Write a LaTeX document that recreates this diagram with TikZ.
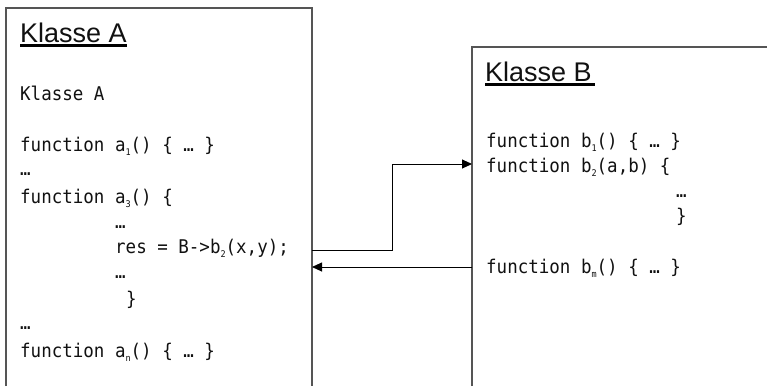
\documentclass[tikz,border=0pt]{standalone}
\usepackage{fontspec}
\usepackage{graphicx}
\setmainfont{Liberation Sans}
\newfontfamily\monof{DejaVu Sans Mono}
\usetikzlibrary{arrows.meta}
\newcommand\sbs[1]{\raisebox{-4.5pt}{\fontsize{8.5}{8.5}\selectfont #1}}
\newcommand\ctx[1]{\scalebox{1}[1.08]{#1}}
\definecolor{txt}{HTML}{111111}
\definecolor{boxc}{HTML}{555555}
\tikzset{
  code/.style={anchor=base west, inner sep=0pt, font=\monof\fontsize{17.5}{20}\selectfont, text=txt},
  head/.style={anchor=base west, inner sep=0pt, font=\fontsize{27}{30}\selectfont, text=txt},
  ul/.style={line width=2.4pt, draw=black},
  boxline/.style={draw=boxc, line width=1.3pt},
  arr/.style={draw=black, line width=0.9pt, -{Triangle[length=10pt,width=9pt]}},
}
\begin{document}
\begin{tikzpicture}[x=1pt,y=-1pt]
\useasboundingbox (0,0) rectangle (767,386);
% boxes
\draw[boxline] (6,386) -- (6,8) -- (312,8) -- (312,386);
\draw[boxline] (472,386) -- (472,47) -- (767,47);
% headings
\node[head] (hA) at (20,42) {Klasse A};
\draw[ul] (20,45.5) -- (127,45.5);
\node[head] (hB) at (485,81) {Klasse B};
\draw[ul] (485,84.5) -- (595,84.5);
% class A code
\node[code] (a0) at (20,100) {\ctx{Klasse A}};
\node[code] (a1) at (20,151) {\ctx{function a\sbs{1}() \{ … \}}};
\node[code] (a2) at (20,175) {\ctx{…}};
\node[code] (a3) at (20,203) {\ctx{function a\sbs{3}() \{}};
\node[code] (a4) at (115,228) {\ctx{…}};
\node[code] (a5) at (115,253) {\ctx{res = B->b\sbs{2}(x,y);}};
\node[code] (a6) at (115,278) {\ctx{…}};
\node[code] (a7) at (126,305) {\ctx{\}}};
\node[code] (a8) at (20,329) {\ctx{…}};
\node[code] (a9) at (20,357) {\ctx{function a\sbs{n}() \{ … \}}};
% class B code
\node[code] (b1) at (486,147) {\ctx{function b\sbs{1}() \{ … \}}};
\node[code] (b2) at (486,172) {\ctx{function b\sbs{2}(a,b) \{}};
\node[code] (b3) at (676,197) {\ctx{…}};
\node[code] (b4) at (676,222) {\ctx{\}}};
\node[code] (b5) at (486,273) {\ctx{function b\sbs{m}() \{ … \}}};
% connectors
\coordinate (Aout) at (312,250);
\coordinate (Bin) at (472,164);
\coordinate (Bout) at (472,267);
\coordinate (Ain) at (312,267);
\draw[arr] (Aout) -- ++(80,0) |- (Bin);
\draw[arr] (Bout) -- (Ain);
\end{tikzpicture}
\end{document}
